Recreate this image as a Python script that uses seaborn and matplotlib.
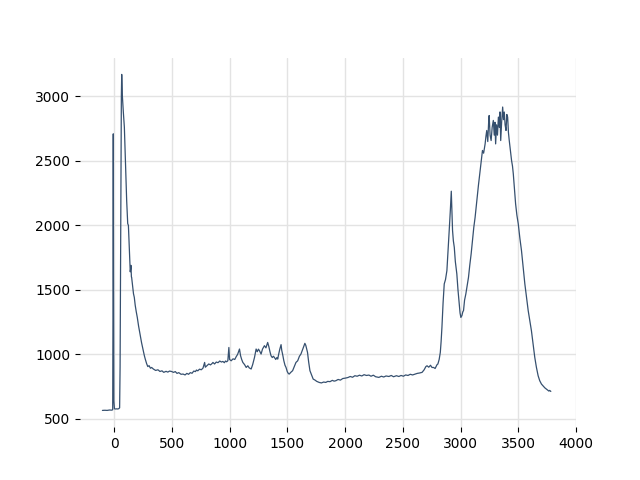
import numpy as np
import pandas as pd
import matplotlib
matplotlib.use("Agg")
import matplotlib.pyplot as plt
import seaborn as sns

# =========================
# DATA
# =========================
shift_head = [-101, -80, -60, -40, -20, -12, -9, -7, -5, -2, 3, 10, 20, 30, 40, 48,
              52, 56, 60, 63, 66]
counts_head = [565, 566, 565, 568, 567, 570, 1500, 2710, 1600, 640, 578, 576, 577, 576,
               578, 585, 900, 1700, 2600, 3000, 3171]

shift_decay = [72, 80, 89, 98, 109, 118, 124, 132, 138, 140, 144, 146, 150, 152, 160,
               168, 175, 183, 192, 201, 212, 224, 238, 253, 262, 270, 282, 292, 303,
               315, 325]
counts_decay = [3000, 2880, 2762, 2500, 2192, 2014, 2000, 1830, 1720, 1640, 1665, 1690,
                1600, 1597, 1530, 1470, 1442, 1380, 1330, 1286, 1220, 1160, 1090, 1028,
                990, 963, 927, 905, 912, 892, 898]

shift_mid = [340, 360, 380, 397, 415, 430, 450, 465, 480, 497, 515, 530, 545, 560, 580,
             597, 615, 630, 645, 660, 675, 690, 705, 713, 725, 740, 755, 770, 784, 790,
             805, 820, 835, 850, 856, 870, 885, 900, 915, 930, 942, 955, 965, 975, 985,
             994, 1000, 1014, 1030, 1045, 1057, 1070, 1086, 1095, 1105, 1115, 1130, 1144,
             1158, 1170, 1187, 1200, 1216, 1230, 1240, 1250, 1259, 1273, 1285, 1302,
             1315, 1330, 1340, 1350, 1359, 1370, 1380, 1388, 1400, 1410, 1417, 1425,
             1435, 1446, 1452, 1459, 1470, 1480, 1489, 1500, 1510, 1517, 1530, 1546,
             1560, 1575, 1590, 1605, 1618, 1630, 1642, 1652, 1660, 1668, 1675, 1685,
             1696, 1710, 1724, 1740, 1755, 1776, 1795, 1815, 1833, 1850, 1870, 1890,
             1905, 1920, 1940, 1960, 1980, 2006, 2025, 2045, 2065, 2085, 2105, 2125,
             2145, 2165, 2185, 2207, 2225, 2245, 2265, 2293, 2315, 2335, 2355, 2380,
             2400, 2420, 2445, 2466, 2485, 2505, 2525, 2545, 2565, 2585, 2609, 2625,
             2645, 2667, 2685, 2700, 2710, 2725, 2740, 2753, 2767, 2780, 2796, 2804]
counts_mid = [886, 875, 880, 867, 872, 860, 868, 862, 870, 867, 860, 866, 852, 858, 845,
              847, 840, 852, 845, 858, 853, 870, 866, 878, 872, 885, 880, 893, 937, 900,
              912, 925, 918, 930, 937, 925, 940, 935, 948, 940, 945, 935, 948, 942, 950,
              1053, 960, 950, 965, 960, 981, 1000, 1041, 990, 960, 937, 920, 898,
              911, 895, 886, 920, 976, 1041, 1020, 1040, 1028, 1002, 1040, 1067,
              1050, 1092, 1060, 1020, 989, 975, 985, 976, 960, 975, 963, 1000,
              1040, 1075, 1030, 1002, 950, 915, 898, 865, 850, 847, 860, 873,
              905, 937, 950, 985, 1002, 1030, 1060, 1085, 1070, 1040, 1015, 940,
              873, 840, 808, 800, 790, 782, 778, 785, 782, 790, 788, 798,
              792, 795, 805, 800, 812, 816, 820, 828, 822, 834, 830, 838,
              832, 842, 836, 839, 830, 838, 826, 821, 830, 824, 832, 828,
              836, 826, 834, 828, 836, 830, 840, 836, 845, 840, 847, 852,
              855, 860, 880, 905, 911, 900, 915, 898, 898, 890, 919, 925]

shift_tail = [2815, 2825, 2832, 2839, 2849, 2859, 2870, 2882, 2892, 2902, 2912, 2920,
              2926, 2931, 2938, 2946, 2955, 2968, 2978, 2989, 2996, 3003, 3012, 3020,
              3026, 3035, 3046, 3057, 3069, 3080, 3092, 3103, 3115, 3126, 3141, 3155,
              3170, 3180, 3190, 3200, 3213, 3220, 3227, 3236, 3243, 3248, 3256, 3265,
              3274, 3284, 3292, 3298, 3304, 3312, 3320, 3328, 3336, 3342, 3348, 3356,
              3365, 3372, 3379, 3386, 3394, 3401, 3408, 3415, 3422, 3432, 3442, 3450,
              3457, 3467, 3477, 3488, 3500, 3514, 3528, 3542, 3557, 3572, 3586, 3600,
              3614, 3628, 3643, 3657, 3672, 3686, 3701, 3715, 3730, 3744, 3755, 3765,
              3772, 3782]
counts_tail = [960, 1015, 1100, 1209, 1400, 1546, 1580, 1649, 1800, 1960, 2120, 2265,
               2100, 1960, 1880, 1830, 1720, 1624, 1500, 1391, 1320, 1286, 1300, 1330,
               1339, 1420, 1468, 1530, 1597, 1690, 1779, 1880, 1985, 2060, 2193, 2310,
               2425, 2500, 2581, 2560, 2632, 2690, 2736, 2650, 2790, 2852, 2700, 2658,
               2760, 2814, 2700, 2800, 2632, 2780, 2700, 2840, 2760, 2880, 2658, 2800,
               2918, 2820, 2879, 2780, 2736, 2860, 2840, 2720, 2658, 2580, 2503, 2460,
               2400, 2280, 2167, 2080, 2012, 1900, 1804, 1680, 1546, 1440, 1339, 1260,
               1183, 1080, 976, 900, 834, 795, 769, 755, 740, 730, 722, 715,
               720, 712]

df = pd.DataFrame({
    "shift": shift_head + shift_decay + shift_mid + shift_tail,
    "counts": counts_head + counts_decay + counts_mid + counts_tail,
})

# =========================
# PLOT
# =========================
sns.set_style("ticks", {"text.color": "black", "xtick.color": "black",
                        "ytick.color": "black"})
fig, ax = plt.subplots(figsize=(6.4, 4.8), dpi=100)

sns.lineplot(data=df, x="shift", y="counts", color="#36506f", linewidth=0.9,
             sort=False, ax=ax)

ax.grid(True, color="#e3e3e3", linewidth=1)
ax.set_axisbelow(True)
ax.set_xticks(np.arange(0, 4001, 500))
ax.set_yticks(np.arange(500, 3001, 500))
ax.set_xlabel("")
ax.set_ylabel("")
sns.despine(ax=ax, left=True, bottom=True)

fig.savefig("out.png", dpi=100)
plt.close(fig)
